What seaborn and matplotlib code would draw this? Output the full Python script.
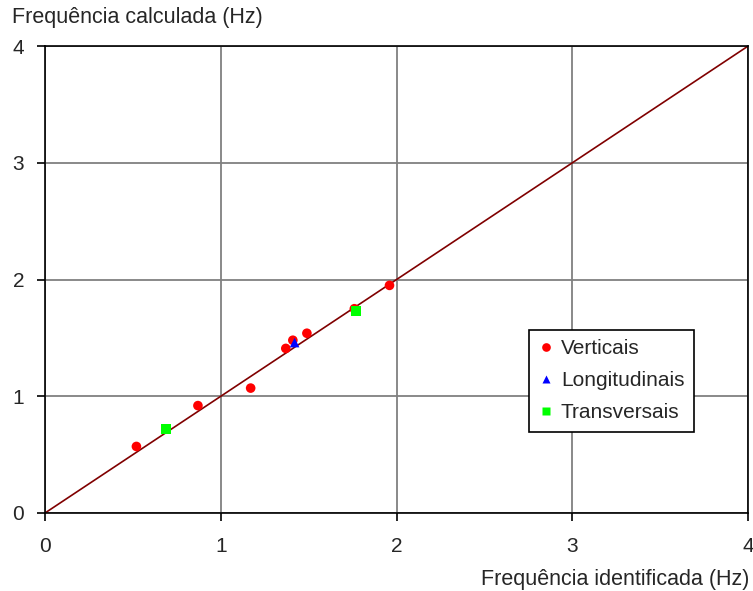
import pandas as pd
import matplotlib.pyplot as plt
import seaborn as sns

# identified vs calculated frequencies (Hz)
vert_ident = [0.52, 0.87, 1.17, 1.37, 1.41, 1.49, 1.76, 1.96]
vert_calc = [0.57, 0.92, 1.07, 1.41, 1.48, 1.54, 1.75, 1.95]
long_ident = [1.42]
long_calc = [1.46]
trans_ident = [0.69, 1.77]
trans_calc = [0.72, 1.73]

ticks = [0, 1, 2, 3, 4]

df = pd.DataFrame({
    "ident": vert_ident + long_ident + trans_ident,
    "calc": vert_calc + long_calc + trans_calc,
    "tipo": ["Verticais"] * len(vert_ident) + ["Longitudinais"] * len(long_ident)
            + ["Transversais"] * len(trans_ident),
})

sns.set_style("white")
plt.rcParams["font.family"] = ["Liberation Sans", "DejaVu Sans"]

fig = plt.figure(figsize=(7.53, 5.91), dpi=100)
ax = fig.add_axes([0.0598, 0.132, 0.9336, 0.790])

# 1:1 reference line
ax.plot([0, 4], [0, 4], color="#800000", lw=1.2, zorder=2)

palette = {"Verticais": "#ff0000", "Longitudinais": "#0000ff", "Transversais": "#00ff00"}
markers = {"Verticais": "o", "Longitudinais": "^", "Transversais": "s"}
sns.scatterplot(data=df, x="ident", y="calc", hue="tipo", style="tipo",
                palette=palette, markers=markers, s=48, edgecolor="none",
                ax=ax, zorder=3)

ax.set_xlim(0, 4)
ax.set_ylim(0, 4)
ax.set_xticks(ticks)
ax.set_yticks(ticks)
ax.grid(True, color="#808080", lw=1.3)
ax.set_axisbelow(True)
for sp in ax.spines.values():
    sp.set_color("black")
    sp.set_linewidth(1.2)
ax.tick_params(direction="out", length=6, width=1.2, color="black",
               labelsize=15, bottom=True, left=True)
ax.tick_params(axis="x", pad=11)
ax.tick_params(axis="y", pad=9)

ax.set_xlabel("")
ax.set_ylabel("")
fig.text(12 / 753, 1 - 18 / 591, "Frequência calculada (Hz)", fontsize=15.5,
         ha="left", va="center")
fig.text(749 / 753, 1 - 580 / 591, "Frequência identificada (Hz)", fontsize=15.5,
         ha="right", va="center")

leg = ax.legend(loc="upper left", bbox_to_anchor=(0.688, 0.392), fontsize=15,
                frameon=True, fancybox=False, edgecolor="black", framealpha=1,
                handletextpad=0.3, labelspacing=0.62, borderpad=0.45,
                borderaxespad=0, handlelength=0.8, markerscale=0.9)
leg.get_frame().set_linewidth(1.2)

plt.savefig("out.png", dpi=100)
